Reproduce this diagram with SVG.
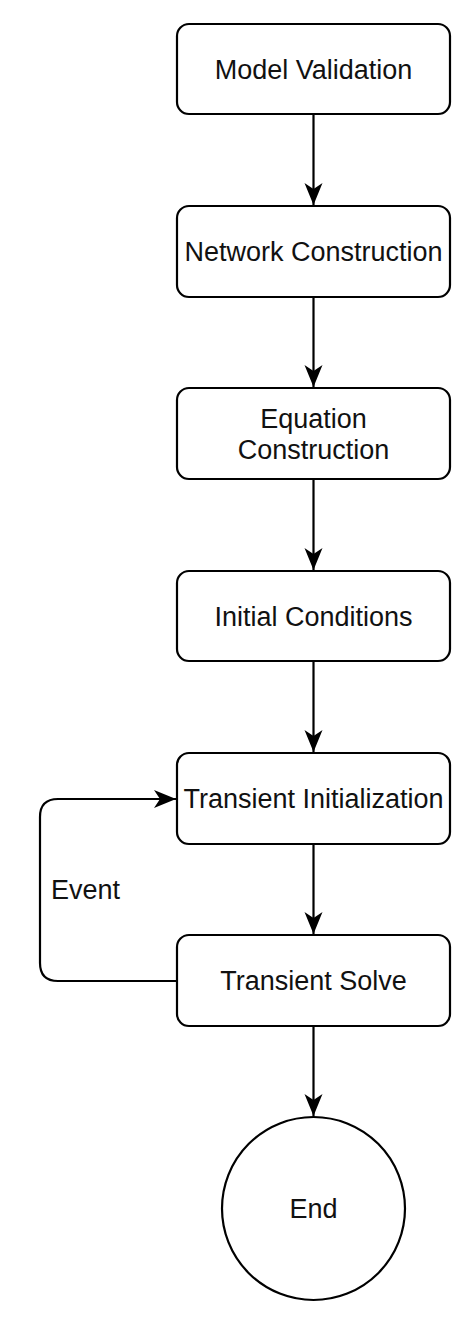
<svg xmlns="http://www.w3.org/2000/svg" width="474" height="1324" viewBox="0 0 474 1324">
<style>
.box{fill:#fff;stroke:#000;stroke-width:2.2}
.t{font-family:"Liberation Sans",Arial,sans-serif;font-size:27px;fill:#111;text-anchor:middle}
.lbl{font-family:"Liberation Sans",Arial,sans-serif;font-size:27px;fill:#111}
.c{fill:none;stroke:#000;stroke-width:2.2}
</style>
<defs>
<marker id="ah" markerUnits="userSpaceOnUse" markerWidth="24" markerHeight="20" refX="22" refY="9" orient="auto" viewBox="0 0 24 20">
<path d="M0,0 L22,9 L0,18 L6,9 Z" fill="#000"/>
</marker>
</defs>
<rect width="474" height="1324" fill="#fff"/>
<g id="connectors">
<line class="c" x1="313.5" y1="114" x2="313.5" y2="205" marker-end="url(#ah)"/>
<line class="c" x1="313.5" y1="297" x2="313.5" y2="387" marker-end="url(#ah)"/>
<line class="c" x1="313.5" y1="479" x2="313.5" y2="570" marker-end="url(#ah)"/>
<line class="c" x1="313.5" y1="661" x2="313.5" y2="752" marker-end="url(#ah)"/>
<line class="c" x1="313.5" y1="844" x2="313.5" y2="934" marker-end="url(#ah)"/>
<line class="c" x1="313.5" y1="1026" x2="313.5" y2="1116" marker-end="url(#ah)"/>
<path class="c" d="M177,981 L58,981 Q40,981 40,963 L40,817 Q40,799 58,799 L176,799" marker-end="url(#ah)"/>
<text class="lbl" x="51" y="899">Event</text>
</g>
<g id="n1"><rect class="box" x="177" y="24" width="273" height="90" rx="12"/><text class="t" x="313.5" y="79">Model Validation</text></g>
<g id="n2"><rect class="box" x="177" y="206" width="273" height="91" rx="12"/><text class="t" x="313.5" y="261">Network Construction</text></g>
<g id="n3"><rect class="box" x="177" y="388" width="273" height="91" rx="12"/><text class="t" x="313.5" y="428">Equation</text><text class="t" x="313.5" y="459">Construction</text></g>
<g id="n4"><rect class="box" x="177" y="571" width="273" height="90" rx="12"/><text class="t" x="313.5" y="626">Initial Conditions</text></g>
<g id="n5"><rect class="box" x="177" y="753" width="273" height="91" rx="12"/><text class="t" x="313.5" y="808">Transient Initialization</text></g>
<g id="n6"><rect class="box" x="177" y="935" width="273" height="91" rx="12"/><text class="t" x="313.5" y="990">Transient Solve</text></g>
<g id="end"><circle class="box" cx="313.5" cy="1208.5" r="91.5"/><text class="t" x="313.5" y="1218">End</text></g>
</svg>
